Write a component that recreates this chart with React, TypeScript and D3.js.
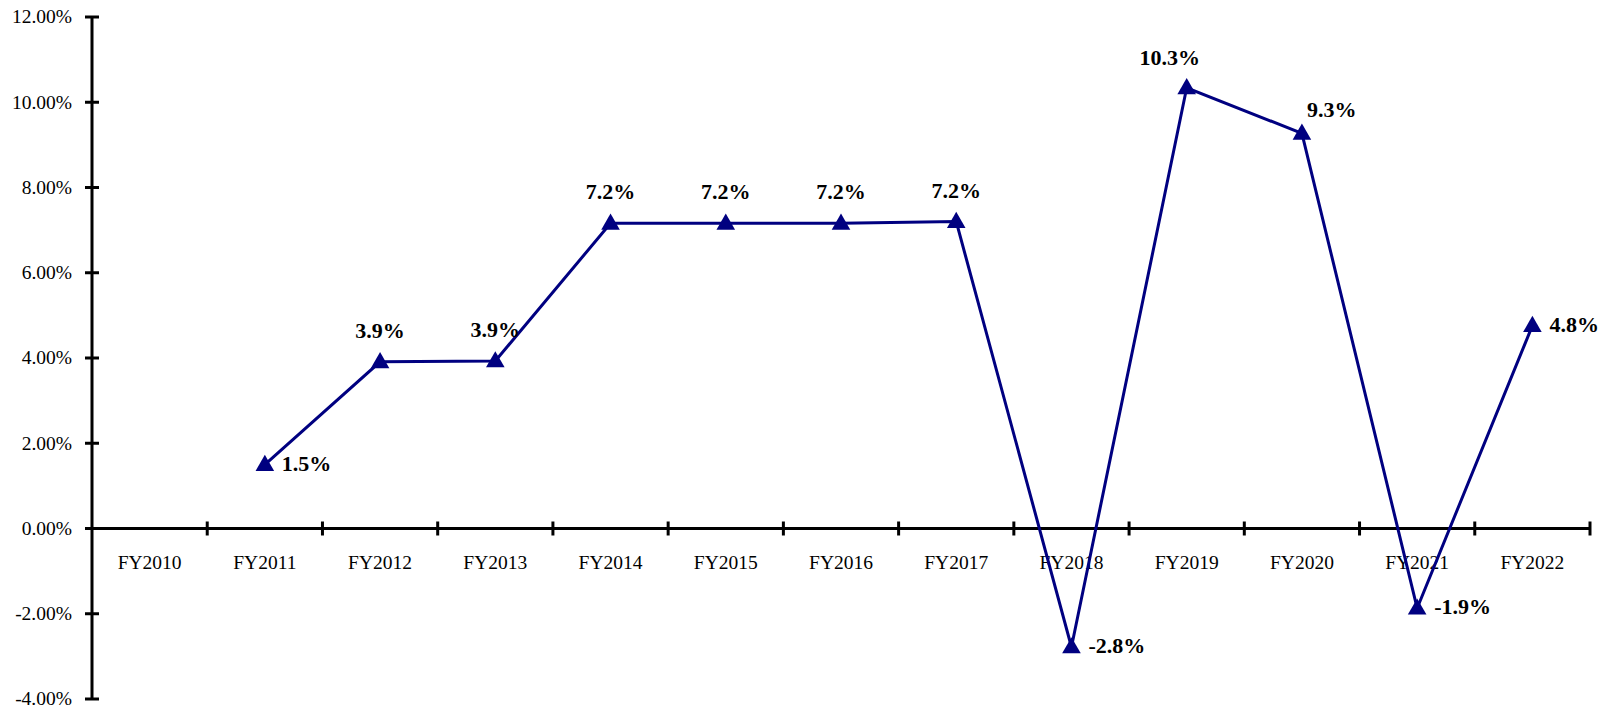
import {useEffect, useRef} from "react";
import * as d3 from "d3";

// fiscal years on the x axis
const years = ["FY2010", "FY2011", "FY2012", "FY2013", "FY2014", "FY2015", "FY2016",
    "FY2017", "FY2018", "FY2019", "FY2020", "FY2021", "FY2022"];

// growth in percent, FY2010 has no value
const growth: (number | null)[] = [null, 1.5, 3.91, 3.93, 7.16, 7.16, 7.16, 7.2, -2.78, 10.34, 9.27, -1.87, 4.76];

// where the data label sits relative to its marker
const labelSide = ["", "right", "above", "above", "above", "above", "above", "above",
    "right", "aboveLeft", "aboveRight", "right", "right"];

const yTicks = [-4, -2, 0, 2, 4, 6, 8, 10, 12];

export default function App() {
    const chartRef = useRef<SVGSVGElement>(null);

    useEffect(() => {
        if (!chartRef.current) return;

        const width = 1606;
        const height = 712;
        const marginLeft = 92;
        const marginRight = 16;
        const marginTop = 17;
        const marginBottom = 13;
        const navy = "#000080";
        const font = "'Liberation Serif', 'Times New Roman', serif";

        const svg = d3.select(chartRef.current)
            .attr("width", width)
            .attr("height", height)
            .attr("viewBox", [0, 0, width, height]);
        svg.selectAll("*").remove();

        const x = d3.scaleBand()
            .domain(years)
            .range([marginLeft, width - marginRight])
            .padding(0);

        const y = d3.scaleLinear()
            .domain([-4, 12])
            .range([height - marginBottom, marginTop]);

        // y axis
        const yAxis = svg.append("g").attr("transform", `translate(${marginLeft},0)`);
        yAxis.append("line")
            .attr("y1", y(12)).attr("y2", y(-4))
            .attr("stroke", "black").attr("stroke-width", 3);
        yAxis.selectAll("line.tick")
            .data(yTicks)
            .join("line")
            .attr("class", "tick")
            .attr("x1", -7).attr("x2", 7)
            .attr("y1", d => y(d)).attr("y2", d => y(d))
            .attr("stroke", "black").attr("stroke-width", 3);
        yAxis.selectAll("text")
            .data(yTicks)
            .join("text")
            .attr("x", -20)
            .attr("y", d => y(d) + 2)
            .attr("text-anchor", "end")
            .attr("dominant-baseline", "middle")
            .attr("font-family", font)
            .attr("font-size", 19.5)
            .text(d => d.toFixed(2) + "%");

        // x axis along the zero line
        const xAxis = svg.append("g").attr("transform", `translate(0,${y(0)})`);
        xAxis.append("line")
            .attr("x1", marginLeft).attr("x2", width - marginRight)
            .attr("stroke", "black").attr("stroke-width", 3);
        xAxis.selectAll("line.tick")
            .data(years)
            .join("line")
            .attr("class", "tick")
            .attr("x1", d => x(d)! + x.bandwidth()).attr("x2", d => x(d)! + x.bandwidth())
            .attr("y1", -7).attr("y2", 7)
            .attr("stroke", "black").attr("stroke-width", 3);
        xAxis.selectAll("text")
            .data(years)
            .join("text")
            .attr("x", d => x(d)! + x.bandwidth() / 2)
            .attr("y", 40)
            .attr("text-anchor", "middle")
            .attr("font-family", font)
            .attr("font-size", 19.5)
            .text(d => d);

        const points = years
            .map((yr, i) => ({yr, v: growth[i], side: labelSide[i]}))
            .filter(d => d.v !== null) as {yr: string, v: number, side: string}[];

        const cx = (d: {yr: string}) => x(d.yr)! + x.bandwidth() / 2;

        const line = d3.line<{yr: string, v: number}>()
            .x(d => cx(d))
            .y(d => y(d.v));

        svg.append("path")
            .datum(points)
            .attr("fill", "none")
            .attr("stroke", navy)
            .attr("stroke-width", 3)
            .attr("d", line);

        // triangle markers
        svg.selectAll("path.marker")
            .data(points)
            .join("path")
            .attr("class", "marker")
            .attr("transform", d => `translate(${cx(d)},${y(d.v) + 1})`)
            .attr("fill", navy)
            .attr("d", d3.symbol(d3.symbolTriangle, 150)());

        const place: Record<string, [number, number, string]> = {
            above: [0, -29, "middle"],
            aboveLeft: [-17, -28, "middle"],
            aboveRight: [5, -21, "start"],
            right: [17, 1, "start"],
        };

        svg.selectAll("text.label")
            .data(points)
            .join("text")
            .attr("class", "label")
            .attr("x", d => cx(d) + place[d.side][0])
            .attr("y", d => y(d.v) + place[d.side][1])
            .attr("text-anchor", d => place[d.side][2])
            .attr("dominant-baseline", "middle")
            .attr("font-family", font)
            .attr("font-weight", "bold")
            .attr("font-size", 22)
            .text(d => d.v.toFixed(1) + "%");
    }, []);

    return (
        <svg ref={chartRef} style={{position: "absolute", left: 0, top: 0, display: "block", background: "white"}}/>
    );
}
